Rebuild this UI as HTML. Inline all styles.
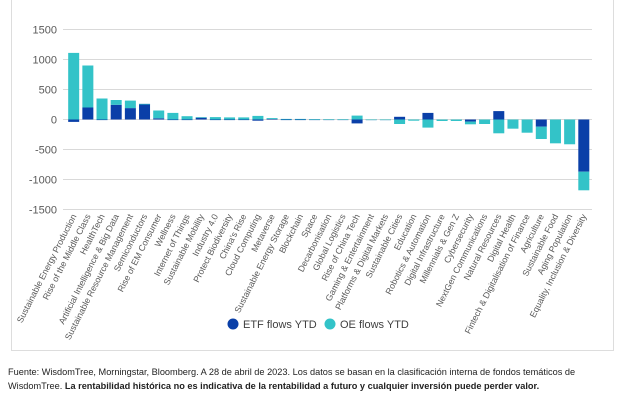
<!DOCTYPE html>
<html><head><meta charset="utf-8"><style>
body{margin:0;background:#fff;width:622px;height:406px;overflow:hidden;font-family:"Liberation Sans",sans-serif}
#box{position:absolute;left:11px;top:-2px;width:601px;height:352px;border:1px solid #ddd;border-top:none}
#foot{position:absolute;left:8px;top:365px;font-size:9.2px;line-height:14px;color:#222;width:610px}
</style></head><body>
<div id="box"></div>
<svg id="chart" width="622" height="350" style="position:absolute;left:0;top:0"></svg>
<div id="foot">Fuente: WisdomTree, Morningstar, Bloomberg. A 28 de abril de 2023. Los datos se basan en la clasificación interna de fondos temáticos de WisdomTree. <b>La rentabilidad histórica no es indicativa de la rentabilidad a futuro y cualquier inversión puede perder valor.</b></div>
<script>
const categories=["Sustainable Energy Production","Rise of the Middle Class","HealthTech","Artificial Intelligence & Big Data","Sustainable Resource Management","Semiconductors","Rise of EM Consumer","Wellness","Internet of Things","Sustainable Mobility","Industry 4.0","Protect Biodiversity","China's Rise","Cloud Computing","Metaverse","Sustainable Energy Storage","Blockchain","Space","Decarbonisation","Global Logistics","Rise of China Tech","Gaming & Entertainment","Platforms & Digital Markets","Sustainable Cities","Education","Robotics & Automation","Digital Infrastructure","Millennials & Gen Z","Cybersecurity","NextGen Communications","Natural Resources","Digital Health","Fintech & Digitalisation of Finance","Agriculture","Sustainable Food","Aging Population","Equality, Inclusion & Diversity"];
const etfFlows=[-40,200,0,245,190,260,20,0,0,30,0,0,0,-20,10,0,0,0,0,0,-65,0,0,45,0,110,0,0,-35,0,140,0,0,-120,0,0,-870];
const oeFlows=[1110,700,350,80,125,0,130,110,55,10,40,35,35,60,15,10,10,5,3,3,65,-5,-5,-75,-20,-135,-25,-25,-45,-75,-230,-153,-220,-205,-397,-413,-310];
const yTicks=[1500,1000,500,0,-500,-1000,-1500];
const NS="http://www.w3.org/2000/svg";
const svg=document.getElementById('chart');
const x0=66.6,band=14.17,bw=11;
const y=v=>119.5-v*0.06;
const xc=i=>x0+band*(i+0.5);
function mk(t,a){const e=document.createElementNS(NS,t);for(const k in a)e.setAttribute(k,a[k]);svg.appendChild(e);return e;}
yTicks.forEach(t=>{
  const g=mk('line',{x1:63,x2:592,y1:y(t),y2:y(t),stroke:'#d9d9d9','stroke-width':1});
  
  
  const tx=mk('text',{x:57,y:y(t)+4,'text-anchor':'end','font-size':'11',fill:'#595959'});
  tx.textContent=t;
  
  
});
categories.forEach((c,i)=>{
  let pos=0,neg=0;
  [[etfFlows[i],'#0a3fa8','etf'],[oeFlows[i],'#33c3c8','oe']].forEach(([v,col,s])=>{
    let a,b;
    if(v>=0){a=pos;b=pos+v;pos=b;}else{a=neg;b=neg+v;neg=b;}
    const r=mk('rect',{x:xc(i)-bw/2,y:Math.min(y(a),y(b)),width:bw,height:Math.max(Math.abs(y(a)-y(b)),0.6),fill:col});
    
    
  });
  const tx=mk('text',{x:xc(i)+3,y:216,'text-anchor':'end','font-size':'8.8',fill:'#595959',transform:`rotate(-63 ${xc(i)+3} 216)`});
  tx.textContent=c;
  
  
});
[[233,'#0a3fa8','ETF flows YTD'],[330,'#33c3c8','OE flows YTD']].forEach(([lx,col,lab])=>{
  const c=mk('circle',{cx:lx,cy:324,r:5.5,fill:col});
  
  
  const t=mk('text',{x:lx+10,y:328,'font-size':'11',fill:'#404040'});
  t.textContent=lab;
  
  
});
</script>
</body></html>
